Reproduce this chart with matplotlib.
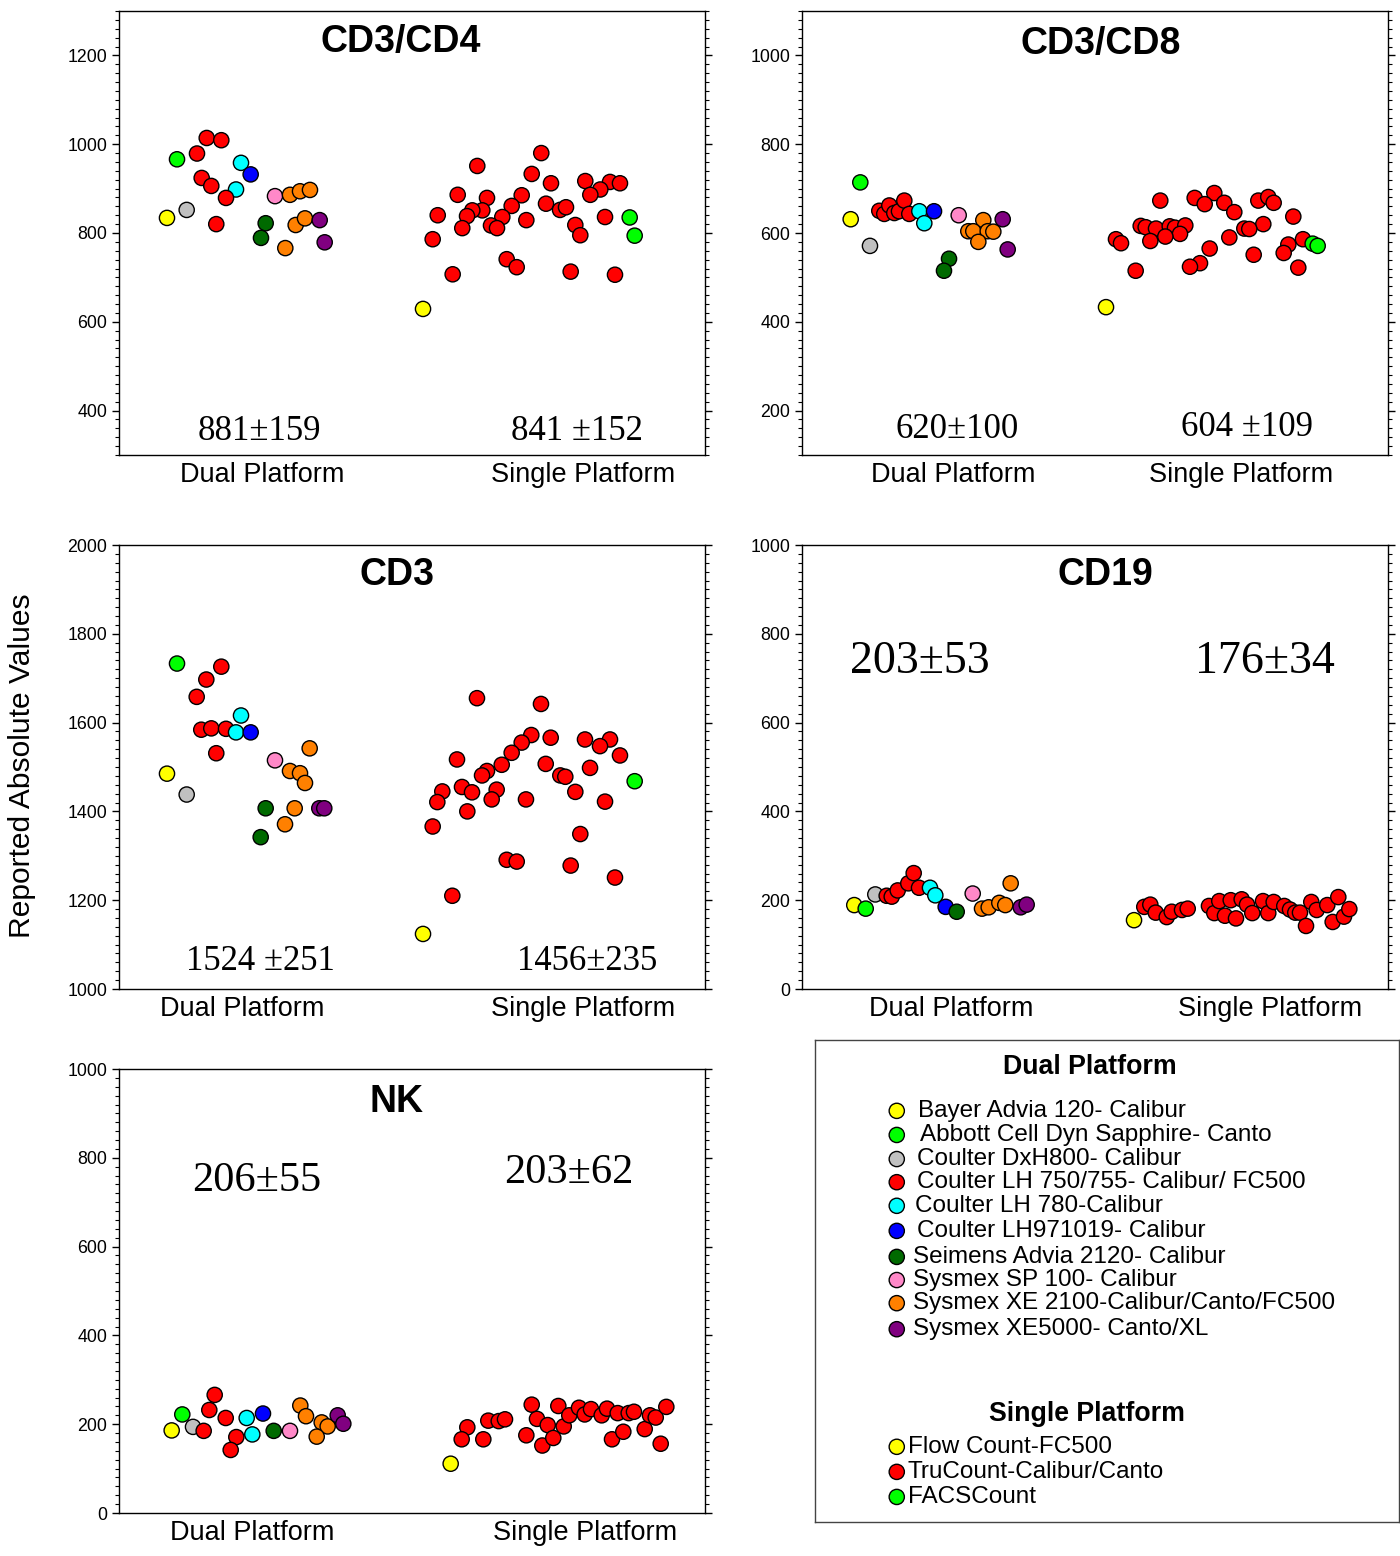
import matplotlib
matplotlib.use("Agg")
import matplotlib.pyplot as plt
from matplotlib.ticker import MultipleLocator

plt.rcParams['font.family'] = ['Liberation Sans', 'DejaVu Sans']

# colour codes for the instruments
colours = {'Y': '#FFFF00', 'G': '#00FF00', 'Gr': '#C0C0C0', 'R': '#FF0000',
           'C': '#00FFFF', 'B': '#0000FF', 'DG': '#006A00', 'P': '#FF88C8',
           'O': '#FF8000', 'Pu': '#800080'}

categories = ['Dual Platform', 'Single Platform']

# x = position across the panel (0-100), y = reported absolute value
# ---- CD3/CD4
cd4_dual_c = ['R', 'R', 'R', 'G', 'C', 'B', 'R', 'R', 'C', 'R', 'P', 'O', 'O', 'O',
              'Y', 'Gr', 'R', 'DG', 'DG', 'O', 'O', 'Pu', 'Pu', 'O']
cd4_dual_x = [14.97, 17.46, 13.31, 9.90, 20.82, 22.47, 14.11, 15.75, 19.97, 18.26, 26.62, 29.18,
              30.89, 32.59, 8.19, 11.55, 16.60, 25.03, 24.23, 30.15, 31.74, 34.25, 35.10, 28.38]
cd4_dual_y = [1014, 1009, 979, 966, 958, 932, 924, 906, 898, 879, 883, 886, 894, 897,
              834, 852, 820, 822, 789, 818, 833, 829, 779, 766]
cd4_single_c = ['Y'] + ['R'] * 23 + ['G'] + ['R'] * 5 + ['G'] + ['R'] * 6
cd4_single_x = [51.88, 72.06, 61.14, 70.43, 73.72, 79.57, 83.79, 85.49, 82.13, 80.43, 57.80,
                62.80, 68.72, 67.01, 72.87, 75.26, 76.28, 62.00, 60.29, 59.39, 54.39, 65.41,
                69.51, 82.94, 87.15, 63.48, 64.51, 58.58, 77.87, 78.72, 88.00, 53.53, 66.16,
                67.87, 56.94, 77.08, 84.64]
cd4_single_y = [629, 980, 951, 933, 912, 917, 915, 912, 898, 886, 886, 879, 885, 861, 866,
                852, 858, 851, 851, 838, 840, 836, 829, 836, 835, 817, 811, 811, 818, 795,
                794, 786, 741, 723, 707, 713, 706]

# ---- CD3/CD8
cd8_dual_c = ['G', 'Y', 'Gr', 'R', 'R', 'R', 'R', 'R', 'R', 'R', 'C', 'C', 'B', 'P',
              'DG', 'DG', 'O', 'O', 'O', 'O', 'O', 'O', 'Pu', 'Pu']
cd8_dual_x = [9.95, 8.31, 11.60, 13.19, 14.04, 14.90, 15.75, 16.55, 17.46, 18.31, 20.02, 20.87,
              22.53, 26.74, 25.09, 24.23, 30.94, 28.38, 29.23, 31.69, 32.65, 30.09, 34.25, 35.10]
cd8_dual_y = [714, 631, 571, 650, 643, 662, 645, 649, 673, 643, 649, 622, 649, 640,
              542, 515, 629, 604, 604, 604, 603, 580, 631, 563]
cd8_single_c = ['Y'] + ['R'] * 34 + ['G', 'G']
cd8_single_x = [51.88, 61.14, 67.01, 70.36, 68.72, 72.06, 73.77, 77.87, 79.57, 80.49, 83.84,
                57.80, 58.65, 60.41, 62.75, 63.65, 65.41, 64.51, 62.00, 59.44, 53.58, 54.44,
                78.72, 75.48, 76.33, 72.92, 69.57, 85.49, 82.99, 82.20, 77.08, 67.92, 66.21,
                56.94, 84.69, 87.15, 88.00]
cd8_single_y = [433, 673, 679, 690, 665, 668, 647, 673, 681, 668, 637, 616, 613, 610, 615,
                612, 617, 598, 592, 582, 586, 577, 620, 610, 609, 590, 565, 586, 574, 555,
                551, 532, 524, 515, 522, 576, 571]

# ---- CD3
cd3_dual_c = ['G', 'R', 'R', 'R', 'C', 'R', 'R', 'R', 'C', 'B', 'R', 'O', 'P', 'O',
              'O', 'O', 'Y', 'Gr', 'DG', 'O', 'Pu', 'Pu', 'O', 'DG']
cd3_dual_x = [9.90, 17.46, 14.90, 13.26, 20.82, 14.04, 15.75, 18.26, 19.97, 22.47, 16.60, 32.54,
              26.62, 29.18, 30.89, 31.74, 8.19, 11.55, 25.03, 29.98, 34.18, 35.03, 28.33, 24.18]
cd3_dual_y = [1733, 1726, 1697, 1658, 1616, 1584, 1587, 1586, 1578, 1578, 1531, 1542,
              1515, 1491, 1486, 1464, 1485, 1438, 1407, 1407, 1407, 1407, 1371, 1342]
cd3_single_c = ['Y'] + ['R'] * 35 + ['G']
cd3_single_x = [51.88, 61.09, 72.01, 70.36, 73.67, 68.72, 79.52, 83.79, 82.08, 85.49, 67.01,
                65.31, 72.82, 57.68, 62.80, 61.95, 80.38, 75.31, 76.16, 58.53, 55.17, 60.24,
                64.45, 63.60, 54.32, 69.45, 77.87, 82.94, 59.44, 53.53, 78.72, 66.16, 67.87,
                77.08, 84.64, 56.88, 88.00]
cd3_single_y = [1124, 1655, 1642, 1572, 1566, 1555, 1562, 1562, 1547, 1526, 1532, 1505,
                1507, 1517, 1491, 1481, 1498, 1481, 1478, 1455, 1445, 1443, 1449, 1427,
                1421, 1427, 1444, 1422, 1400, 1366, 1349, 1291, 1287, 1278, 1251, 1210, 1468]

# ---- CD19
cd19_dual_c = ['Y', 'G', 'Gr', 'R', 'R', 'R', 'R', 'R', 'R', 'C', 'C', 'B', 'DG', 'P',
               'O', 'O', 'O', 'O', 'O', 'Pu', 'Pu']
cd19_dual_x = [8.92, 10.87, 12.51, 14.45, 15.31, 16.33, 18.14, 19.06, 19.97, 21.84, 22.75,
               24.52, 26.40, 29.13, 35.61, 30.72, 31.86, 33.67, 34.69, 37.32, 38.34]
cd19_dual_y = [189, 181, 213, 210, 208, 222, 238, 261, 228, 228, 211, 185, 174, 215,
               238, 181, 184, 194, 189, 184, 190]
cd19_single_c = ['Y'] + ['R'] * 31
cd19_single_x = [56.66, 58.41, 59.44, 60.36, 62.24, 63.09, 64.85, 65.82, 69.45, 70.36, 71.21,
                 72.18, 73.16, 74.06, 75.03, 75.94, 76.84, 78.67, 79.57, 80.49, 82.30, 83.28,
                 84.18, 84.98, 86.01, 86.91, 87.83, 89.64, 91.52, 90.56, 92.49, 93.40]
cd19_single_y = [155, 185, 190, 172, 162, 174, 178, 181, 187, 171, 198, 165, 200, 159, 202,
                 190, 171, 198, 171, 196, 187, 179, 172, 172, 142, 196, 178, 189, 207, 151,
                 163, 180]

# ---- NK
nk_dual_c = ['Y', 'G', 'Gr', 'R', 'R', 'R', 'R', 'R', 'R', 'C', 'C', 'B', 'DG', 'P',
             'O', 'O', 'O', 'O', 'O', 'Pu', 'Pu']
nk_dual_x = [8.99, 10.80, 12.63, 14.45, 16.33, 15.41, 18.21, 20.02, 19.06, 21.79, 22.75,
             24.57, 26.40, 29.18, 30.94, 31.91, 34.59, 35.61, 33.74, 37.32, 38.28]
nk_dual_y = [186, 222, 194, 185, 266, 232, 214, 171, 142, 214, 177, 224, 185, 185,
             242, 218, 204, 195, 172, 220, 201]
nk_single_c = ['Y'] + ['R'] * 30
nk_single_x = [56.60, 59.44, 58.48, 63.02, 62.17, 64.80, 65.87, 70.43, 69.51, 71.33, 73.16,
               72.24, 74.11, 74.97, 75.89, 76.84, 78.50, 79.47, 80.55, 82.37, 83.28, 85.10,
               84.13, 86.06, 86.98, 87.88, 89.71, 90.61, 91.59, 93.40, 92.44]
nk_single_y = [111, 193, 166, 208, 166, 207, 211, 244, 175, 212, 198, 152, 169, 241, 195,
               220, 237, 222, 234, 220, 235, 225, 166, 183, 225, 228, 189, 220, 215, 239, 156]

# mean +- sd labels
cd4_means = ['881\u00b1159', '841 \u00b1152']
cd8_means = ['620\u00b1100', '604 \u00b1109']
cd3_means = ['1524 \u00b1251', '1456\u00b1235']
cd19_means = ['203\u00b153', '176\u00b134']
nk_means = ['206\u00b155', '203\u00b162']

dual_legend = ['Bayer Advia 120- Calibur', 'Abbott Cell Dyn Sapphire- Canto',
               'Coulter DxH800- Calibur', 'Coulter LH 750/755- Calibur/ FC500',
               'Coulter LH 780-Calibur', 'Coulter LH971019- Calibur',
               'Seimens Advia 2120- Calibur', 'Sysmex SP 100- Calibur',
               'Sysmex XE 2100-Calibur/Canto/FC500', 'Sysmex XE5000- Canto/XL']
dual_legend_c = ['Y', 'G', 'Gr', 'R', 'C', 'B', 'DG', 'P', 'O', 'Pu']
single_legend = ['Flow Count-FC500', 'TruCount-Calibur/Canto', 'FACSCount']
single_legend_c = ['Y', 'R', 'G']

W, H = 1400, 1556
fig = plt.figure(figsize=(W / 100, H / 100), dpi=100)


def panel(left, top, title, ylim, dual, single, means, tickpos, title_pos, mean_pos, mean_fs):
    ax = fig.add_axes([left / W, 1 - (top + 444) / H, 586 / W, 444 / H])
    for xs, ys, cs in (dual, single):
        ax.scatter(xs, ys, s=120, c=[colours[k] for k in cs], edgecolors='black',
                   linewidths=1.0, zorder=3)
    ax.set_xlim(0, 100)
    ax.set_ylim(*ylim)
    ax.yaxis.set_major_locator(MultipleLocator(200))
    ax.yaxis.set_minor_locator(MultipleLocator(20))
    ax.set_xticks(tickpos)
    ax.set_xticklabels(categories, fontsize=19.5)
    ax.tick_params(axis='x', length=0, pad=5)
    ax.tick_params(axis='y', which='major', length=5, width=1, labelsize=12.8, direction='out',
                   right=True)
    ax.tick_params(axis='y', which='minor', length=3, width=0.8, direction='out', right=True)
    for sp in ax.spines.values():
        sp.set_linewidth(1.0)
    ax.text(title_pos[0], title_pos[1], title, transform=ax.transAxes, ha='center', va='center',
            fontsize=27, fontweight='bold')
    for txt, (mx, my) in zip(means, mean_pos):
        ax.text(mx, my, txt, transform=ax.transAxes, ha='center', va='center',
                fontsize=mean_fs, family=['Liberation Serif', 'DejaVu Serif'])
    return ax


panel(119, 11, 'CD3/CD4', (300, 1300), (cd4_dual_x, cd4_dual_y, cd4_dual_c),
      (cd4_single_x, cd4_single_y, cd4_single_c), cd4_means, [24.4, 79.2],
      (0.48, 0.93), [(0.239, 0.053), (0.782, 0.053)], 25)
panel(802, 11, 'CD3/CD8', (100, 1100), (cd8_dual_x, cd8_dual_y, cd8_dual_c),
      (cd8_single_x, cd8_single_y, cd8_single_c), cd8_means, [25.8, 74.9],
      (0.51, 0.926), [(0.265, 0.058), (0.759, 0.061)], 25)
panel(119, 545, 'CD3', (1000, 2000), (cd3_dual_x, cd3_dual_y, cd3_dual_c),
      (cd3_single_x, cd3_single_y, cd3_single_c), cd3_means, [21.0, 79.2],
      (0.474, 0.932), [(0.241, 0.061), (0.799, 0.061)], 25)
panel(802, 545, 'CD19', (0, 1000), (cd19_dual_x, cd19_dual_y, cd19_dual_c),
      (cd19_single_x, cd19_single_y, cd19_single_c), cd19_means, [25.4, 79.9],
      (0.517, 0.932), [(0.201, 0.736), (0.79, 0.736)], 33)
panel(119, 1069, 'NK', (0, 1000), (nk_dual_x, nk_dual_y, nk_dual_c),
      (nk_single_x, nk_single_y, nk_single_c), nk_means, [22.7, 79.5],
      (0.473, 0.925), [(0.235, 0.748), (0.768, 0.766)], 30.5)

fig.text(22 / W, 1 - 766 / H, 'Reported Absolute Values', rotation=90, ha='center',
         va='center', fontsize=21.6)

# legend box
lg = fig.add_axes([815 / W, 1 - 1522 / H, 584 / W, 482 / H])
lg.set_xlim(0, 1)
lg.set_ylim(0, 1)
lg.set_xticks([])
lg.set_yticks([])
for sp in lg.spines.values():
    sp.set_linewidth(1.0)
    sp.set_color('#444444')
lg.text(0.47, 0.944, 'Dual Platform', ha='center', va='center', fontsize=19.3, fontweight='bold')
lg.text(0.465, 0.224, 'Single Platform', ha='center', va='center', fontsize=19.3,
        fontweight='bold')
dual_rows = [0.853, 0.803, 0.753, 0.705, 0.656, 0.604, 0.550, 0.502, 0.454, 0.400]
dual_tx = [0.177, 0.180, 0.175, 0.175, 0.171, 0.175, 0.167, 0.167, 0.167, 0.167]
lg.scatter([0.140] * len(dual_rows), dual_rows, s=120,
           c=[colours[k] for k in dual_legend_c], edgecolors='black', linewidths=1.0)
for name, yy, xx in zip(dual_legend, dual_rows, dual_tx):
    lg.text(xx, yy, name, ha='left', va='center', fontsize=17.5)
single_rows = [0.156, 0.104, 0.052]
lg.scatter([0.140] * 3, single_rows, s=120, c=[colours[k] for k in single_legend_c],
           edgecolors='black', linewidths=1.0)
for name, yy in zip(single_legend, single_rows):
    lg.text(0.159, yy, name, ha='left', va='center', fontsize=17.5)

fig.savefig('out.png', dpi=100)
